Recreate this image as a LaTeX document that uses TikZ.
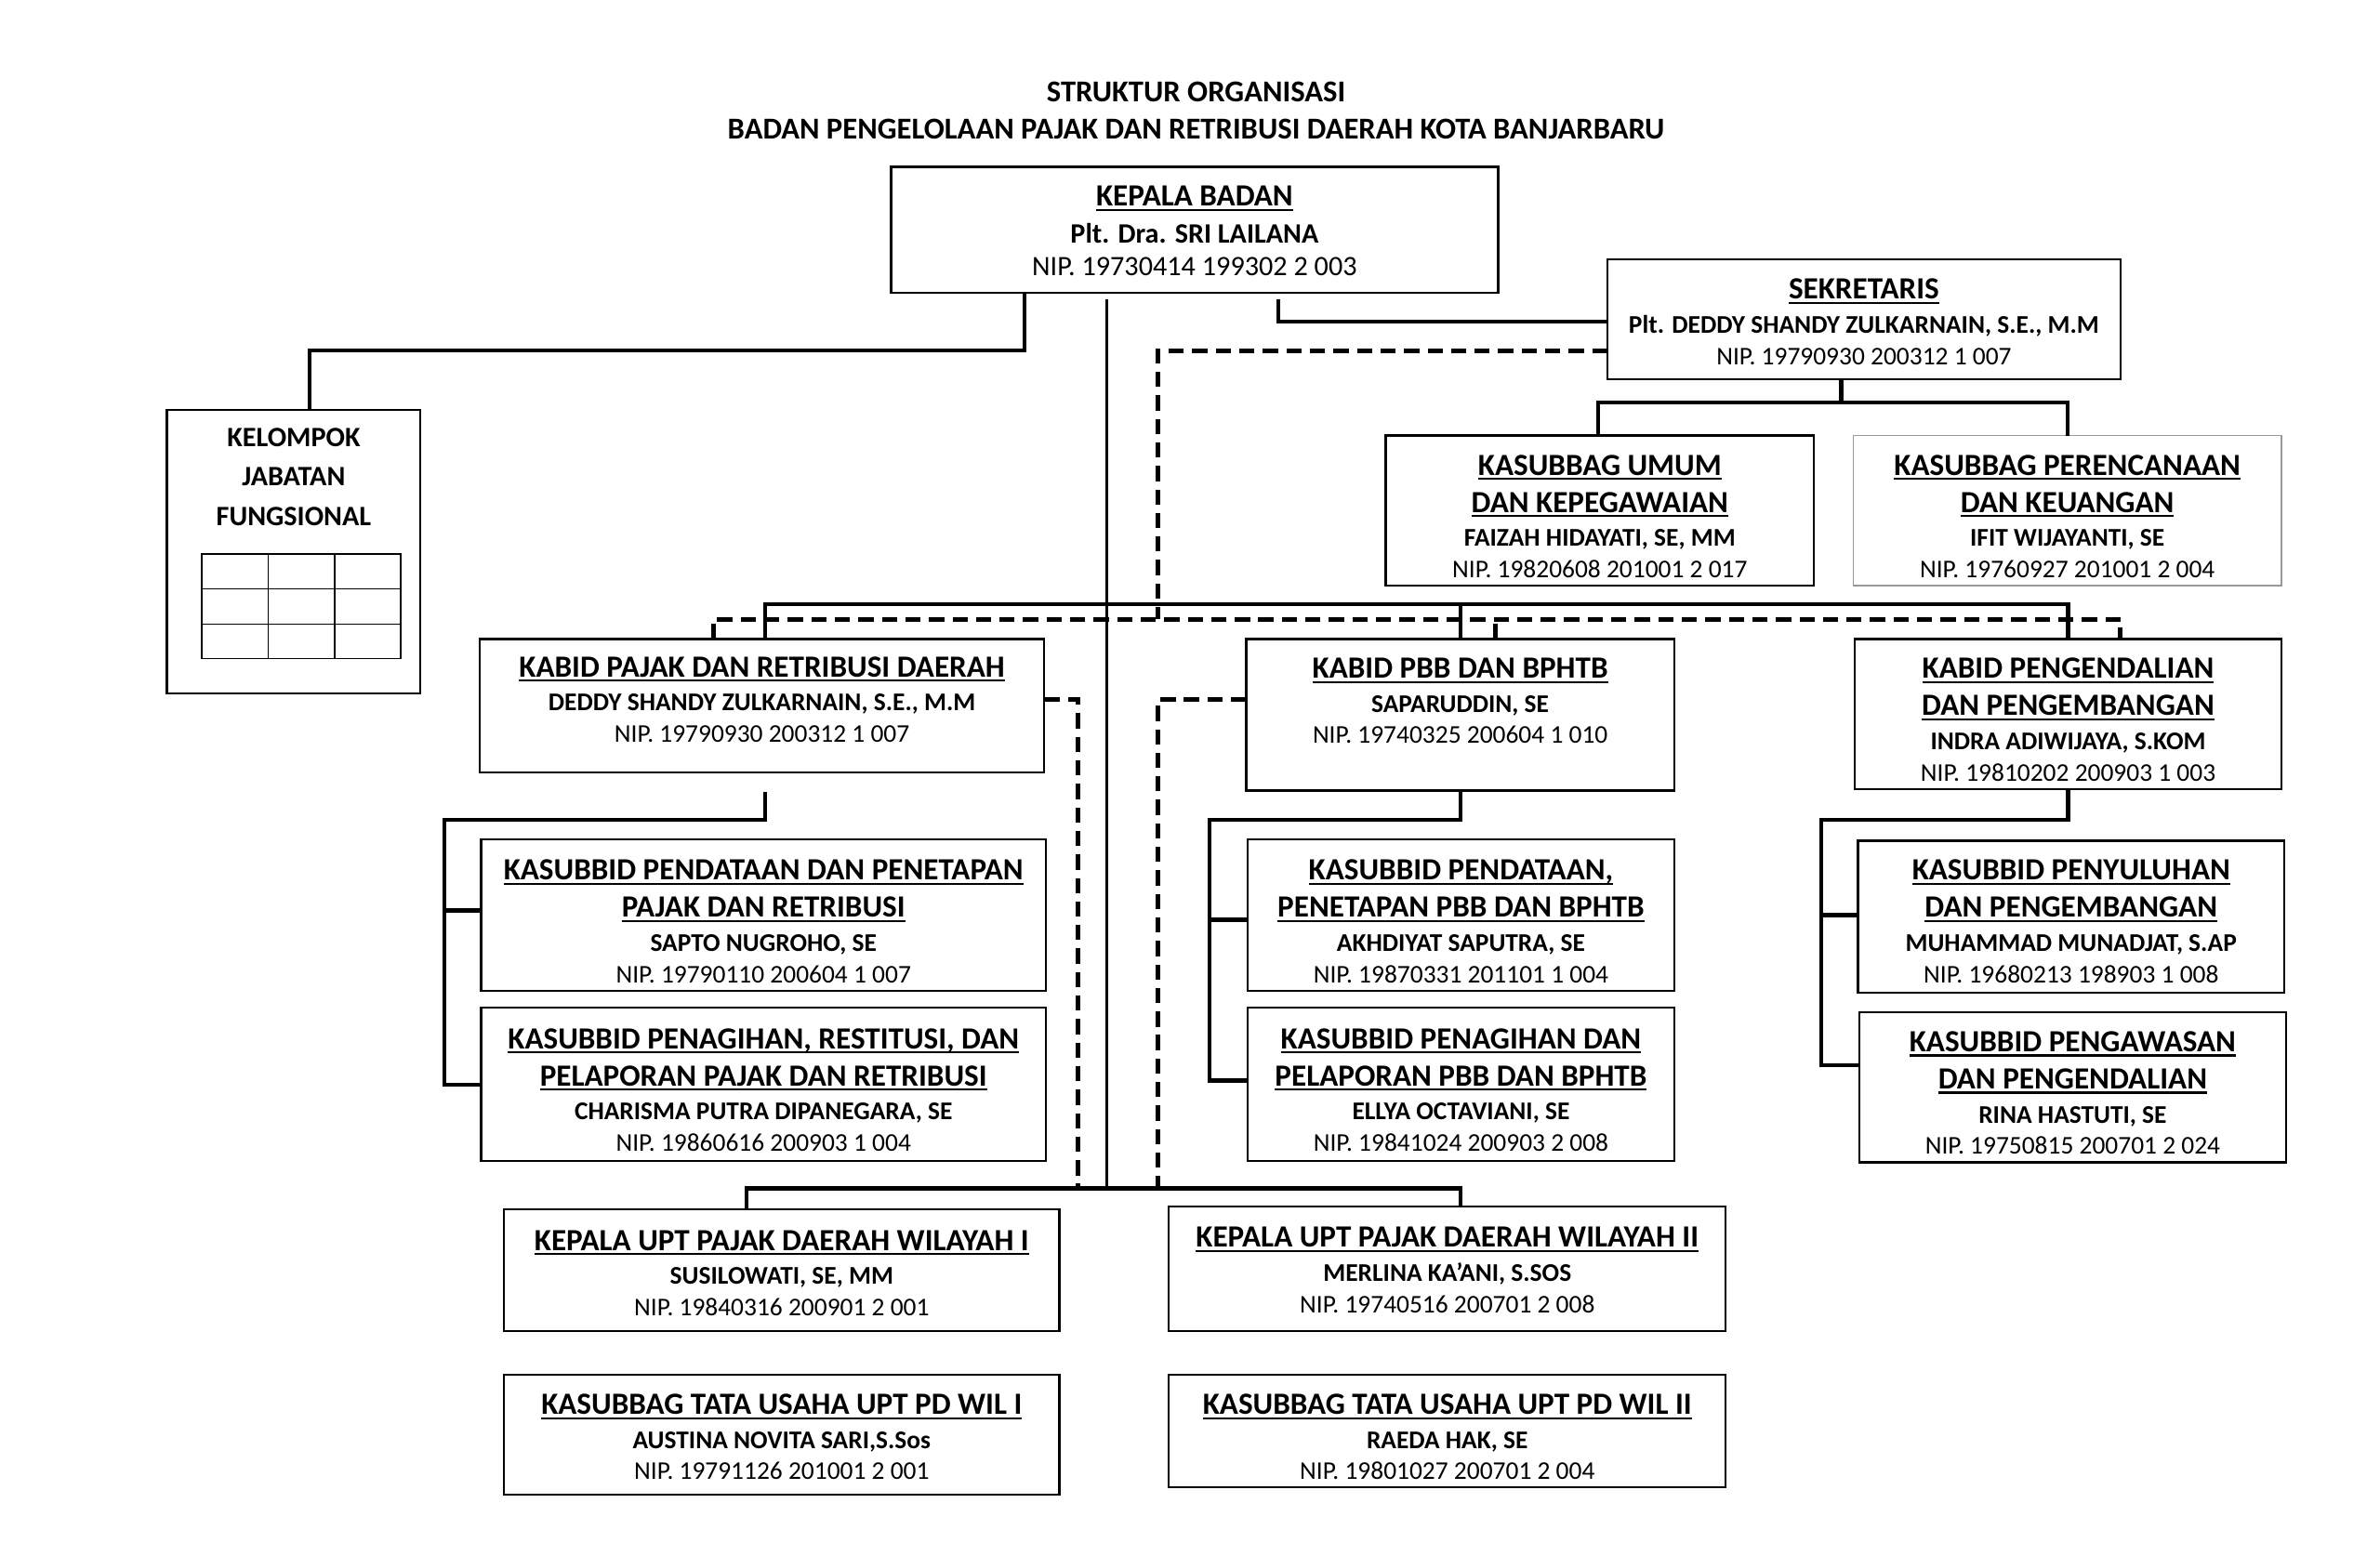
\documentclass[tikz,border=0pt]{standalone}
\usepackage{fontspec}
\setmainfont{Carlito}
\usetikzlibrary{calc}
\newcommand\ulx[1]{\setbox0=\hbox{#1}\rlap{\rule[-3.2pt]{\wd0}{1.4pt}}\box0}
\newcommand\hdln[1]{{\fontsize{20.3}{20}\selectfont\bfseries\ulx{#1}}}
\newcommand\nmln[1]{{\fontsize{16.8}{20}\selectfont\bfseries #1}}
\newcommand\npln[1]{{\fontsize{16.8}{20}\selectfont #1}}
\newcommand\bignm[1]{{\fontsize{18.5}{20}\selectfont\bfseries #1}}
\newcommand\bignp[1]{{\fontsize{18.5}{20}\selectfont #1}}
\newcommand\orgbox[6][]{\node[box,#1,minimum width={#4pt-#2pt},minimum height={#5pt-#3pt}] (#6) at (#2,#3) {};}
\begin{document}
\begin{tikzpicture}[x=1pt,y=-1pt,
  box/.style={draw,line width=1.4pt,anchor=north west,inner sep=0pt,outer sep=0pt},
  thinbox/.style={draw=black!40,line width=0.9pt},
  txt/.style={anchor=north,align=center,inner sep=0pt,font=\fontsize{20}{20}\selectfont},
  conn/.style={line width=2.6pt},
  trunk/.style={line width=1.6pt},
  dsh/.style={line width=3pt,dash pattern=on 10pt off 5.5pt},
  gridline/.style={line width=1.1pt}]
\fill[white] (0,0) rectangle (1568,1025.3);
\path[use as bounding box] (0,0) rectangle (1568,1025.3);

% title
\node[txt] (title) at (788,53.5) {{\bfseries STRUKTUR ORGANISASI}\\[5pt]{\bfseries BADAN PENGELOLAAN PAJAK DAN RETRIBUSI DAERAH KOTA BANJARBARU}};

% boxes
\orgbox{587}{110}{987}{193}{kep}
\orgbox{1059}{171}{1397}{250}{sek}
\orgbox{110}{270}{277}{457}{kel}
\orgbox{913}{287}{1195}{386}{ku}
\orgbox[thinbox]{1221}{287}{1503}{386}{pr}
\orgbox{316}{421}{688}{509}{kpj}
\orgbox{821}{421}{1103}{521}{kpb}
\orgbox{1222}{421}{1503}{520}{kpg}
\orgbox{317}{553}{689}{653}{s1}
\orgbox{317}{664}{689}{765}{s2}
\orgbox{822}{553}{1103}{653}{p1}
\orgbox{822}{664}{1103}{765}{p2}
\orgbox{1224}{554}{1505}{654}{g1}
\orgbox{1225}{667}{1506}{766}{g2}
\orgbox{332}{797}{698}{877}{u1}
\orgbox{770}{795}{1137}{877}{u2}
\orgbox{332}{906}{698}{985}{t1}
\orgbox{770}{906}{1137}{980}{t2}

% grid in kelompok
\draw[gridline] (133,365) rectangle (264,434);
\foreach \gx in {176.7,220.5} \draw[gridline] (\gx,365) -- (\gx,434);
\foreach \gy in {388,411.3} \draw[gridline] (133,\gy) -- (264,\gy);

% texts
\node[txt] (kep-t) at (787,122.5) {\hdln{KEPALA BADAN}\\[4pt]\bignm{Plt. Dra. SRI LAILANA}\\[2pt]\bignp{NIP. 19730414 199302 2 003}};
\node[txt] (sek-t) at (1228,183.5) {\hdln{SEKRETARIS}\\[2.5pt]\nmln{Plt. DEDDY SHANDY ZULKARNAIN, S.E., M.M}\\[1pt]\npln{NIP. 19790930 200312 1 007}};
\node[txt] (kel-t) at (193.5,282) {\bignm{KELOMPOK}\\[6pt]\bignm{JABATAN}\\[6pt]\bignm{FUNGSIONAL}};
\node[txt] (ku-t) at (1054,299.5) {\hdln{KASUBBAG UMUM}\\[4.5pt]\hdln{DAN KEPEGAWAIAN}\\[2.5pt]\nmln{FAIZAH HIDAYATI, SE, MM}\\[0.5pt]\npln{NIP. 19820608 201001 2 017}};
\node[txt] (pr-t) at (1362,299.5) {\hdln{KASUBBAG PERENCANAAN}\\[4.5pt]\hdln{DAN KEUANGAN}\\[2.5pt]\nmln{IFIT WIJAYANTI, SE}\\[0.5pt]\npln{NIP. 19760927 201001 2 004}};
\node[txt] (kpj-t) at (502,432.5) {\hdln{KABID PAJAK DAN RETRIBUSI DAERAH}\\[2.5pt]\nmln{DEDDY SHANDY ZULKARNAIN, S.E., M.M}\\[0.5pt]\npln{NIP. 19790930 200312 1 007}};
\node[txt] (kpb-t) at (962,433.5) {\hdln{KABID PBB DAN BPHTB}\\[2.5pt]\nmln{SAPARUDDIN, SE}\\[0.5pt]\npln{NIP. 19740325 200604 1 010}};
\node[txt] (kpg-t) at (1362.5,433.5) {\hdln{KABID PENGENDALIAN}\\[4.5pt]\hdln{DAN PENGEMBANGAN}\\[2.5pt]\nmln{INDRA ADIWIJAYA, S.KOM}\\[0.5pt]\npln{NIP. 19810202 200903 1 003}};
\node[txt] (s1-t) at (503,566.5) {\hdln{KASUBBID PENDATAAN DAN PENETAPAN}\\[4.5pt]\hdln{PAJAK DAN RETRIBUSI}\\[2.5pt]\nmln{SAPTO NUGROHO, SE}\\[0.5pt]\npln{NIP. 19790110 200604 1 007}};
\node[txt] (s2-t) at (503,677.5) {\hdln{KASUBBID PENAGIHAN, RESTITUSI, DAN}\\[4.5pt]\hdln{PELAPORAN PAJAK DAN RETRIBUSI}\\[2.5pt]\nmln{CHARISMA PUTRA DIPANEGARA, SE}\\[0.5pt]\npln{NIP. 19860616 200903 1 004}};
\node[txt] (p1-t) at (962.5,566.5) {\hdln{KASUBBID PENDATAAN,}\\[4.5pt]\hdln{PENETAPAN PBB DAN BPHTB}\\[2.5pt]\nmln{AKHDIYAT SAPUTRA, SE}\\[0.5pt]\npln{NIP. 19870331 201101 1 004}};
\node[txt] (p2-t) at (962.5,677.5) {\hdln{KASUBBID PENAGIHAN DAN}\\[4.5pt]\hdln{PELAPORAN PBB DAN BPHTB}\\[2.5pt]\nmln{ELLYA OCTAVIANI, SE}\\[0.5pt]\npln{NIP. 19841024 200903 2 008}};
\node[txt] (g1-t) at (1364.5,566.5) {\hdln{KASUBBID PENYULUHAN}\\[4.5pt]\hdln{DAN PENGEMBANGAN}\\[2.5pt]\nmln{MUHAMMAD MUNADJAT, S.AP}\\[0.5pt]\npln{NIP. 19680213 198903 1 008}};
\node[txt] (g2-t) at (1365.5,679.5) {\hdln{KASUBBID PENGAWASAN}\\[4.5pt]\hdln{DAN PENGENDALIAN}\\[2.5pt]\nmln{RINA HASTUTI, SE}\\[0.5pt]\npln{NIP. 19750815 200701 2 024}};
\node[txt] (u1-t) at (515,810.5) {\hdln{KEPALA UPT PAJAK DAERAH WILAYAH I}\\[2.5pt]\nmln{SUSILOWATI, SE, MM}\\[0.5pt]\npln{NIP. 19840316 200901 2 001}};
\node[txt] (u2-t) at (953.5,808.5) {\hdln{KEPALA UPT PAJAK DAERAH WILAYAH II}\\[2.5pt]\nmln{MERLINA KA’ANI, S.SOS}\\[0.5pt]\npln{NIP. 19740516 200701 2 008}};
\node[txt] (t1-t) at (515,918.5) {\hdln{KASUBBAG TATA USAHA UPT PD WIL I}\\[2.5pt]\nmln{AUSTINA NOVITA SARI,S.Sos}\\[0.5pt]\npln{NIP. 19791126 201001 2 001}};
\node[txt] (t2-t) at (953.5,918.5) {\hdln{KASUBBAG TATA USAHA UPT PD WIL II}\\[2.5pt]\nmln{RAEDA HAK, SE}\\[0.5pt]\npln{NIP. 19801027 200701 2 004}};

% helper coordinates
\coordinate (trunkend) at (729,783);
\coordinate (dsx) at (763,408);
\coordinate (dpx) at (710,783);
\coordinate (dbx) at (763,783);

% connectors
\draw[conn] ($(kep.south west)+(88,0)$) |- ($(kel.north)+(10.5,-39)$) -- ($(kel.north)+(10.5,0)$);
\draw[trunk] ($(kep.south)+(-58,4)$) -- (trunkend);
\draw[conn] ($(kep.south)+(55,4)$) |- ($(sek.west)+(0,1.5)$);
\draw[dsh] ($(sek.west)+(0,20.5)$) -| (dsx);
\draw[conn] ($(sek.south)+(-15,0)$) -- ++(0,15);
\draw[conn] ($(ku.north)+(-1,0)$) -- ++(0,-22) -| (pr.north);
\draw[conn] ($(kpj.north)+(2,0)$) -- ++(0,-23) -| (kpg.north);
\draw[conn] (kpb.north) -- ++(0,-23);
\draw[dsh] ($(kpj.north)+(-32,0)$) -- ++(0,-13) -| ($(kpg.north)+(34.5,0)$);
\draw[dsh] ($(kpb.north)+(23,0)$) -- ++(0,-13);
\draw[conn] ($(kpj.south)+(2,13)$) -- ++(0,18) -| ($(s2.west)+(-24,0.5)$) -- ($(s2.west)+(0,0.5)$);
\draw[conn] ($(s1.west)+(-24,-3)$) -- ($(s1.west)+(0,-3)$);
\draw[conn] (kpb.south) -- ++(0,19) -| ($(p2.west)+(-25,-2.5)$) -- ($(p2.west)+(0,-2.5)$);
\draw[conn] ($(p1.west)+(-25,3)$) -- ($(p1.west)+(0,3)$);
\draw[conn] (kpg.south) -- ++(0,20) -| ($(g2.west)+(-25,-14.5)$) -- ($(g2.west)+(0,-14.5)$);
\draw[conn] ($(g1.west)+(-24,-1)$) -- ($(g1.west)+(0,-1)$);
\draw[dsh] ($(kpj.east)+(0,-4)$) -| (dpx);
\draw[dsh] ($(kpb.west)+(0,-10)$) -| (dbx);
\draw[conn] ($(u1.north)+(-23,0)$) -- ++(0,-14) -| ($(u2.north)+(8.5,0)$);
\end{tikzpicture}
\end{document}
